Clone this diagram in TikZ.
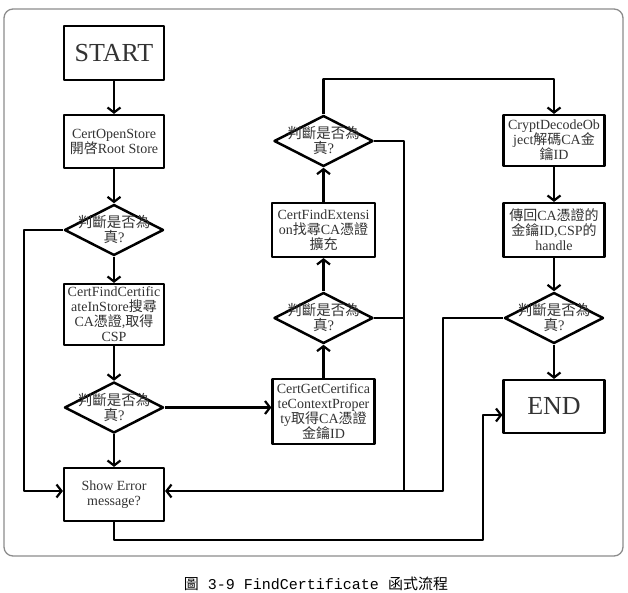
\documentclass[tikz,border=0pt]{standalone}
\usepackage{fontspec}
\setmainfont{Liberation Serif}
\setmonofont{Liberation Mono}
\newfontfamily\zhfont{Noto Sans CJK TC}
\usetikzlibrary{shapes.geometric,arrows.meta,calc}
\newcommand\zh[1]{{\zhfont #1}}
\tikzset{
	box/.style={draw, line width=2.2pt, minimum width=100pt, minimum height=53pt, inner sep=1pt, align=center, font=\fontsize{14}{15}\selectfont, text=black!80},
	bigbox/.style={box, font=\fontsize{26}{28}\selectfont},
	dia/.style={draw, diamond, line width=2.5pt, minimum width=99pt, minimum height=51pt, inner sep=0pt},
	dlabel/.style={align=center, inner sep=0pt, font=\fontsize{14.5}{15}\selectfont, text=black!80},
	link/.style={line width=2.2pt},
}
\begin{document}
\begin{tikzpicture}[x=1pt, y=-1pt, line join=round, >={Straight Barb[length=5pt,width=13pt]}]
	\useasboundingbox (0,0) rectangle (628,593);
	\draw[black!45, line width=1.3pt, rounded corners=9pt] (4,9) rectangle (623,556);
	% left column
	\node[bigbox, minimum height=54pt] (start) at (114,53) {START};
	\node[box] (open) at (114,141.5) {CertOpenStore\\\zh{開啓}Root Store};
	\node[dia] (d1) at (114,230) {};
	\node[box, minimum height=61pt] (find) at (114,314.5) {CertFindCertific\\ateInStore\zh{搜尋}\\CA\zh{憑證},\zh{取得}\\CSP};
	\node[dia] (d2) at (114,407.5) {};
	\node[box] (err) at (114,494.5) {Show Error\\message?};
	% middle column
	\node[box, minimum width=102pt, minimum height=65pt] (get) at (323.5,411.5) {CertGetCertifica\\teContextProper\\ty\zh{取得}CA\zh{憑證}\\\zh{金鑰}ID};
	\node[dia] (d4) at (323.5,318) {};
	\node[box, minimum width=103pt, minimum height=54pt] (ext) at (323.5,230) {CertFindExtensi\\on\zh{找尋}CA\zh{憑證}\\\zh{擴充}};
	\node[dia] (d5) at (323.5,141) {};
	% right column
	\node[box, minimum width=101pt, minimum height=51pt] (dec) at (554,140.5) {CryptDecodeOb\\ject\zh{解碼}CA\zh{金}\\\zh{鑰}ID};
	\node[box, minimum width=101pt, minimum height=54pt] (ret) at (554,230) {\zh{傳回}CA\zh{憑證的}\\\zh{金鑰}ID,CSP\zh{的}\\handle};
	\node[dia] (d6) at (554,318) {};
	\node[bigbox, minimum width=101pt] (end) at (554,406.5) {END};
	\foreach \d in {d1,d2,d4,d5,d6}
		\node[dlabel] (\d t) at ($(\d)+(0,-0.5)$) {\zh{判斷是否為}\\\zh{真}?};
	\path 
	(24,0) coordinate (lft)
	(404,491) coordinate (j1)
	(443,491) coordinate (j2)
	(483,540) coordinate (j3)
	(0,79) coordinate (top)
	;
	\draw[link,->] (start) -- (open);
	\draw[link,->] (open) -- (d1);
	\draw[link,->] (d1) -- (find);
	\draw[link,->] (find) -- (d2);
	\draw[link,->] (d2) -- (err);
	\draw[link,->] (d1.west) -| (lft |- j1) -- (j1 -| err.west);
	\draw[link,->] (d2.east) -- (d2.east -| get.west);
	\draw[link,->] (get) -- (d4);
	\draw[link,->] (d4) -- (ext);
	\draw[link,->] (ext) -- (d5);
	\draw[link,->] (d5.north) -- (d5.north |- top) -| (dec.north);
	\draw[link] (d5.east) -| (j1);
	\draw[link] (d4.east) -- (d4.east -| j1);
	\draw[link] (d6.west) -| (j2) -- (j1);
	\draw[link,->] (j1) -- (j1 -| err.east);
	\draw[link,->] (dec) -- (ret);
	\draw[link,->] (ret) -- (d6);
	\draw[link,->] (d6) -- (end);
	\draw[link,->] (err.south) |- (j3) |- ($(end.west)+(0,8.5)$);
	% caption
	\node[font=\fontsize{15}{17}\selectfont] (cap) at (316,584) {\zh{圖}\texttt{ 3-9 FindCertificate }\zh{函式流程}};
\end{tikzpicture}
\end{document}
